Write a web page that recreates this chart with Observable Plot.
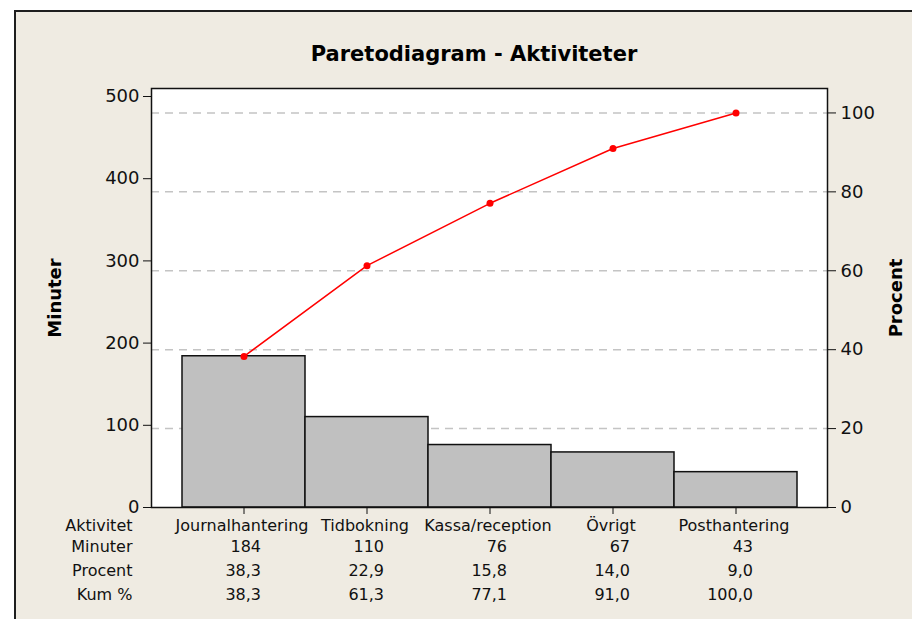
<!DOCTYPE html>
<html>
<head>
<meta charset="utf-8">
<script src="https://cdn.jsdelivr.net/npm/d3@7"></script>
<script src="https://cdn.jsdelivr.net/npm/@observablehq/plot@0.6"></script>
<style>
  html, body { margin: 0; padding: 0; background: #ffffff; }
  #wrap { position: relative; width: 912px; height: 619px; overflow: hidden; }
  #bg { position: absolute; left: 14px; top: 10px; width: 940px; height: 660px;
        background: #efebe2; border-left: 2px solid #1e1e1e; border-top: 2px solid #1e1e1e; }
  #title { position: absolute; left: 474px; top: 42px; transform: translateX(-50%);
           font-family: "DejaVu Sans", sans-serif; font-weight: bold; font-size: 21px; color: #000; white-space: nowrap; }
  #chart { position: absolute; left: 0; top: 70px; }
</style>
</head>
<body>
<div id="wrap">
  <div id="bg"></div>
  <div id="title">Paretodiagram - Aktiviteter</div>
  <div id="chart"></div>
</div>
<script>
const categories = ["Journalhantering", "Tidbokning", "Kassa/reception", "Övrigt", "Posthantering"];
const minutes = [184, 110, 76, 67, 43];
const percent = [38.3, 22.9, 15.8, 14.0, 9.0];
const cumPercent = [38.3, 61.3, 77.1, 91.0, 100.0];
const total = 480;
const leftTicks = [0, 100, 200, 300, 400, 500];
const rightTicks = [0, 20, 40, 60, 80, 100];
const rowLabels = ["Aktivitet", "Minuter", "Procent", "Kum %"];

const data = categories.map((c, i) => ({cat: c, min: minutes[i], pct: percent[i], cum: cumPercent[i]}));
const toMin = p => p * total / 100;
const fmt1 = v => v.toFixed(1).replace(".", ",");

const rowDy = [23.5, 44, 68, 92];
const tableFont = {fontSize: 16, fill: "#111"};

const chart = Plot.plot({
  width: 912,
  height: 542,
  marginTop: 18,
  marginBottom: 105,
  marginLeft: 151,
  marginRight: 85,
  style: {background: "transparent", fontFamily: "DejaVu Sans, sans-serif", fontSize: "18px", color: "#111", overflow: "visible"},
  x: {domain: categories, paddingInner: 0, paddingOuter: 0.243, axis: null},
  y: {domain: [0, 500], insetTop: 8, axis: null},
  marks: [
    Plot.frame({fill: "white", stroke: "none"}),
    Plot.ruleY(rightTicks.filter(p => p > 0), {y: p => toMin(p), stroke: "#c4c4c4", strokeWidth: 1.5, strokeDasharray: "8,6"}),
    Plot.barY(data, {x: "cat", y: "min", fill: "#c0c0c0", stroke: "#111", strokeWidth: 1.5}),
    Plot.line(data, {x: "cat", y: d => toMin(d.cum), stroke: "#ff0000", strokeWidth: 1.5}),
    Plot.dot(data, {x: "cat", y: d => toMin(d.cum), r: 3.5, fill: "#ff0000", stroke: "none"}),
    Plot.frame({stroke: "#111", strokeWidth: 1.5}),
    Plot.axisY(leftTicks, {anchor: "left", tickSize: 8, tickPadding: 4, label: null, fontSize: 18, stroke: "#111"}),
    Plot.axisY(rightTicks.map(toMin), {anchor: "right", tickSize: 8, tickPadding: 5, label: null, fontSize: 18,
      tickFormat: d => String(Math.round(d / total * 100)), stroke: "#111"}),
    Plot.axisX({tickSize: 7, tickFormat: () => "", label: null, stroke: "#111"}),
    Plot.text(["Minuter"], {frameAnchor: "left", dx: -96, rotate: -90, textAnchor: "middle", fontWeight: "bold", fontSize: 18, fill: "#000"}),
    Plot.text(["Procent"], {frameAnchor: "right", dx: 69, rotate: -90, textAnchor: "middle", fontWeight: "bold", fontSize: 18, fill: "#000"}),
    ...rowLabels.map((r, i) => Plot.text([r], {frameAnchor: "bottom-left", dx: -19, dy: rowDy[i], textAnchor: "end", ...tableFont})),
    Plot.text(data, {x: "cat", text: "cat", frameAnchor: "bottom", dy: rowDy[0], dx: -2, ...tableFont}),
    Plot.text(data, {x: "cat", text: d => String(d.min), frameAnchor: "bottom", dy: rowDy[1], dx: 17, textAnchor: "end", ...tableFont}),
    Plot.text(data, {x: "cat", text: d => fmt1(d.pct), frameAnchor: "bottom", dy: rowDy[2], dx: 17, textAnchor: "end", ...tableFont}),
    Plot.text(data, {x: "cat", text: d => fmt1(d.cum), frameAnchor: "bottom", dy: rowDy[3], dx: 17, textAnchor: "end", ...tableFont})
  ]
});
document.getElementById("chart").appendChild(chart);
</script>
</body>
</html>
